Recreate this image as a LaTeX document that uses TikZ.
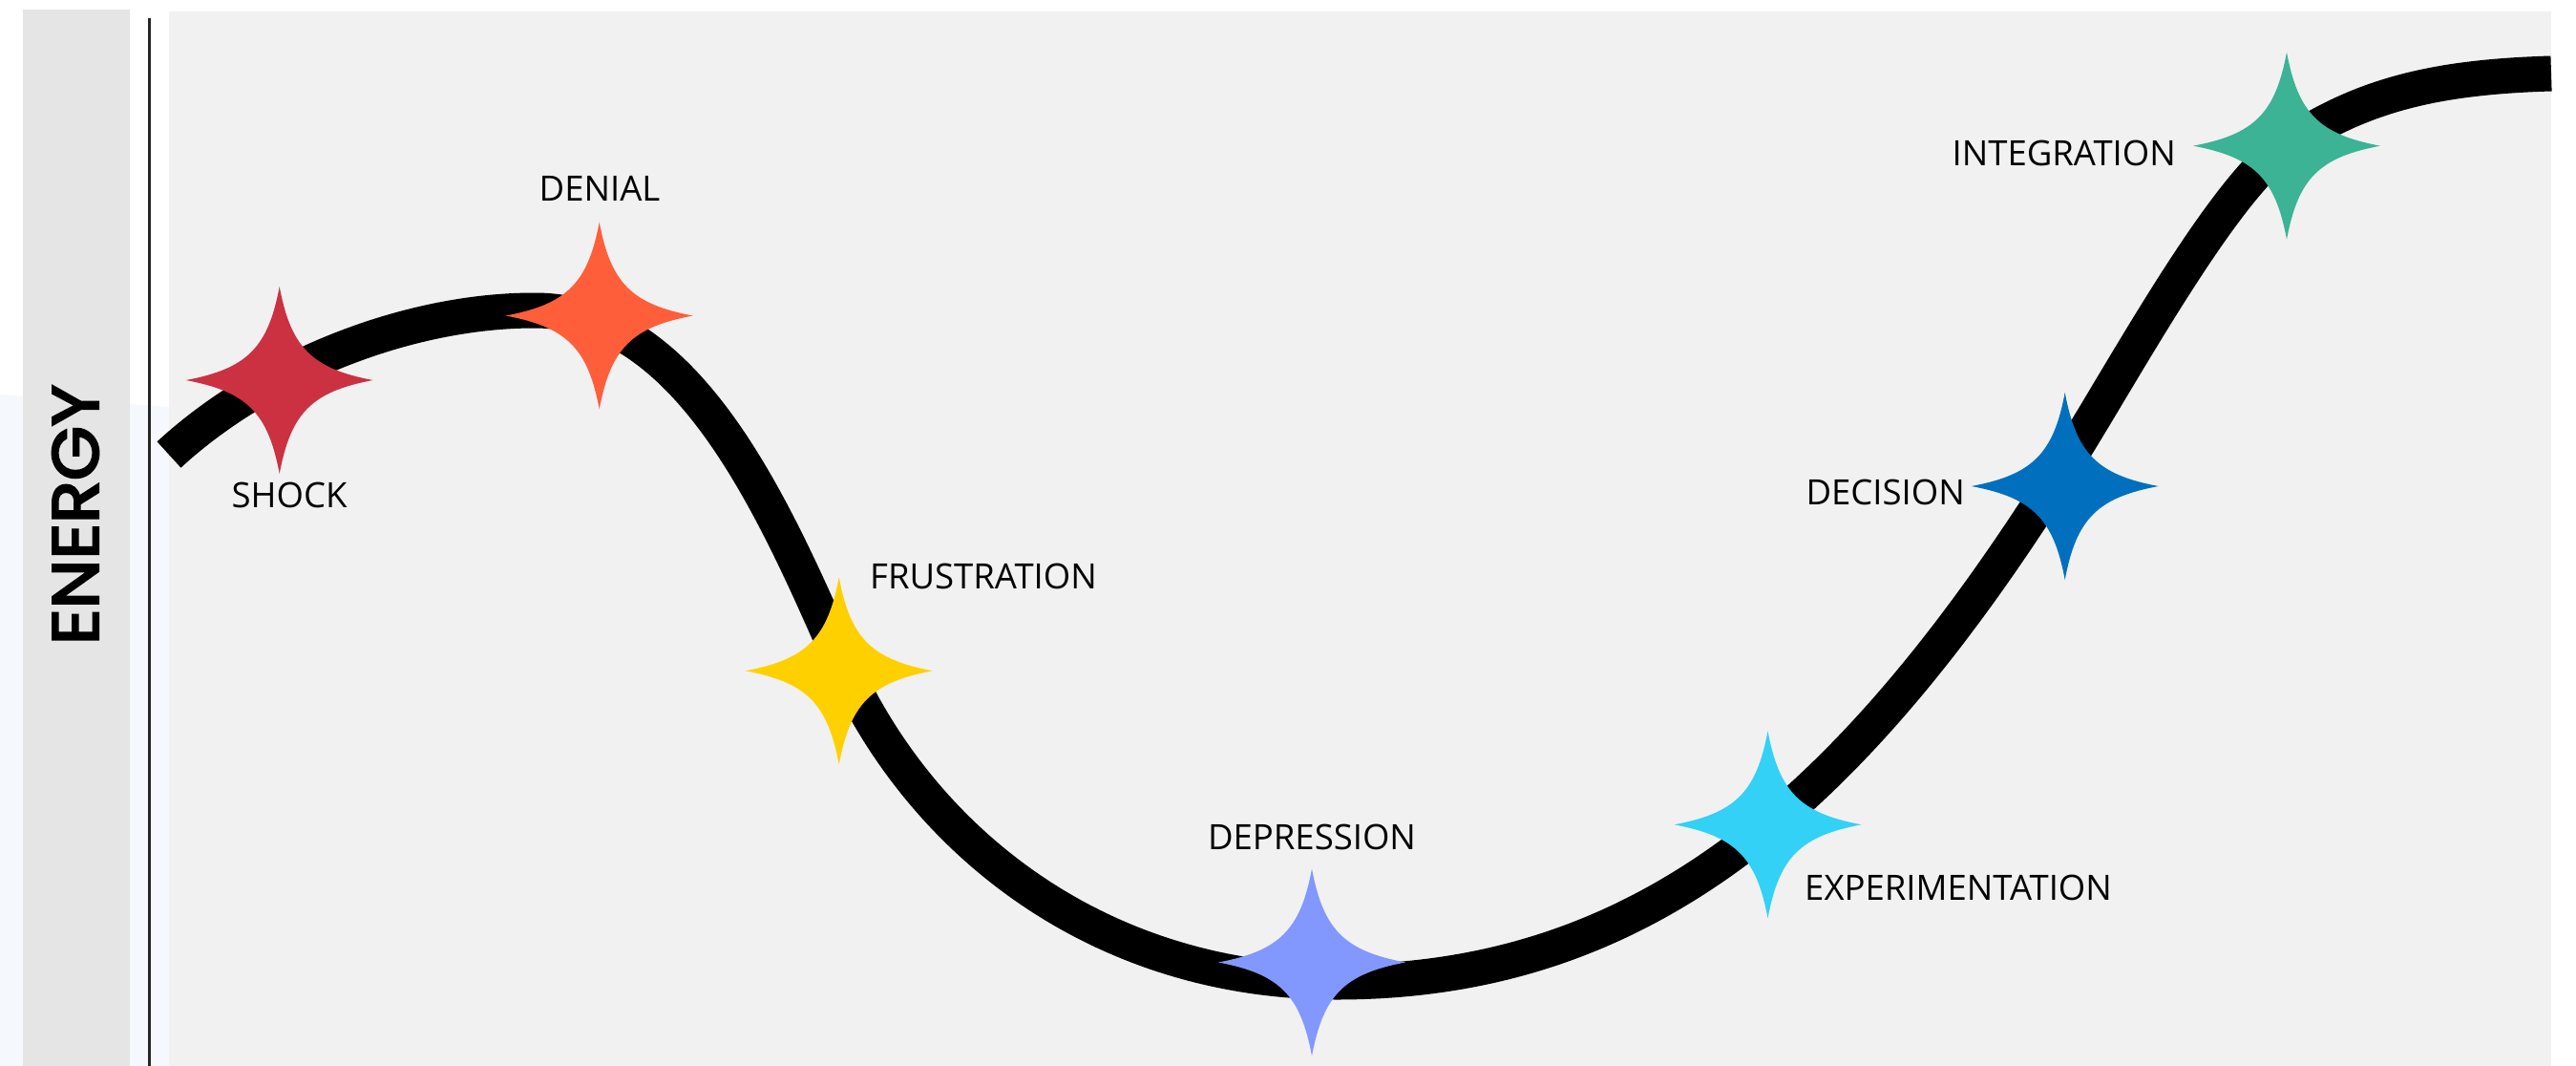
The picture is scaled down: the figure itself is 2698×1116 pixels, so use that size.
\documentclass[tikz,border=0pt]{standalone}
\usepackage{fontspec}
\setmainfont{Open Sans}
\newfontfamily\energyfont{Poppins}[FakeBold=3.5]
\definecolor{panelgray}{HTML}{F1F1F1}
\definecolor{bargray}{HTML}{E5E5E5}
\definecolor{paleblue}{HTML}{F5F8FC}
\definecolor{cshock}{HTML}{CC3142}
\definecolor{cdenial}{HTML}{FF5E3A}
\definecolor{cfrust}{HTML}{FFD000}
\definecolor{cdepr}{HTML}{8298FF}
\definecolor{cexper}{HTML}{33D1F5}
\definecolor{cdecis}{HTML}{0070BE}
\definecolor{cinteg}{HTML}{3BB394}
\tikzset{
  sparkle/.pic={
    \fill[pic actions] (0,98)
      .. controls (12,34) and (34,12) .. (98,0)
      .. controls (34,-12) and (12,-34) .. (0,-98)
      .. controls (-12,-34) and (-34,-12) .. (-98,0)
      .. controls (-34,12) and (-12,34) .. (0,98) -- cycle;
  },
  stagelabel/.style={inner sep=0pt, text=black,
    font=\fontsize{36.5}{40}\selectfont},
  curveline/.style={line width=37pt, black},
}
\begin{document}
\begin{tikzpicture}[x=1pt,y=-1pt]
\useasboundingbox (0,0) rectangle (2698,1116);
% page and side areas
\fill[white] (0,0) rectangle (2698,1116);
\fill[paleblue] (0,413) -- (177,426) -- (177,1116) -- (0,1116) -- cycle;
\fill[bargray] (24,10) rectangle (136,1116);
\node[rotate=90, inner sep=0pt] (energy) at (79,539)
  {\resizebox{272pt}{48pt}{\energyfont ENERGY}};
\coordinate (axistop) at (156,19);
\coordinate (axisbot) at (156,1116);
\draw[line width=3pt, color=black!85] (axistop) -- (axisbot);
% chart panel
\fill[panelgray] (177,12) rectangle (2672,1116);
% change curve
\coordinate (curvestart) at (177,476);
\coordinate (peak) at (560,325);
\coordinate (fall) at (880,690);
\coordinate (trough) at (1400,1028);
\coordinate (climb) at (2185,450);
\coordinate (bend) at (2395,152);
\coordinate (curveend) at (2672,77);
\draw[curveline] (curvestart)
  .. controls (270,390) and (420,325) .. (peak)
  .. controls (720,325) and (810,530) .. (fall)
  .. controls (963,880) and (1150,1028) .. (trough)
  .. controls (1720,1028) and (1945,846) .. (climb)
  .. controls (2245,351) and (2335,192) .. (bend)
  .. controls (2475,98.6) and (2552,80.6) .. (curveend);
% stage markers
\coordinate (shock) at (292.7,398);
\coordinate (denial) at (627.7,330.5);
\coordinate (frustration) at (878.7,702.3);
\coordinate (depression) at (1374,1007.5);
\coordinate (experimentation) at (1851.5,863.3);
\coordinate (decision) at (2162.7,509);
\coordinate (integration) at (2395,152.7);
\pic[fill=cshock] at (shock) {sparkle};
\pic[fill=cdenial] at (denial) {sparkle};
\pic[fill=cfrust] at (frustration) {sparkle};
\pic[fill=cdepr] at (depression) {sparkle};
\pic[fill=cexper] at (experimentation) {sparkle};
\pic[fill=cdecis] at (decision) {sparkle};
\pic[fill=cinteg] at (integration) {sparkle};
% stage names
\node[stagelabel, anchor=base] (lshock) at (303,531) {SHOCK};
\node[stagelabel, anchor=base] (ldenial) at (628,210) {DENIAL};
\node[stagelabel, anchor=base west] (lfrust) at (911,616) {FRUSTRATION};
\node[stagelabel, anchor=base] (ldepr) at (1374,889) {DEPRESSION};
\node[stagelabel, anchor=base west] (lexper) at (1890,942) {EXPERIMENTATION};
\node[stagelabel, anchor=base east] (ldecis) at (2058,528) {DECISION};
\node[stagelabel, anchor=base east] (linteg) at (2279,173) {INTEGRATION};
\end{tikzpicture}
\end{document}
